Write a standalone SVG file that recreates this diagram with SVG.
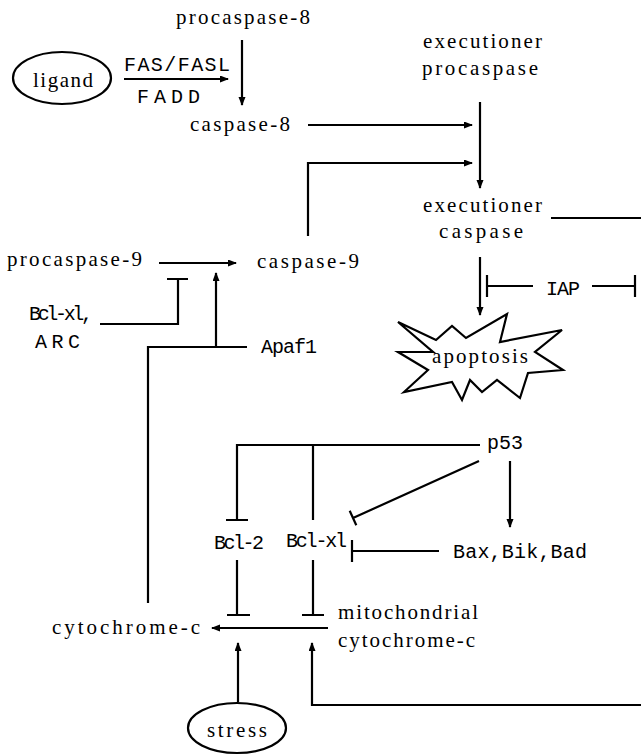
<svg xmlns="http://www.w3.org/2000/svg" width="641" height="755" viewBox="0 0 641 755">
<defs>
<style>
.s{font-family:"Liberation Serif","Times New Roman",serif;font-size:21px;fill:#000}
.m{font-family:"Liberation Mono","Courier New",monospace;font-size:20px;fill:#000}
.c{fill:none;stroke:#000;stroke-width:2.2}
.a{fill:none;stroke:#000;stroke-width:2.2;marker-end:url(#ah)}
.n{fill:#fff;stroke:#000;stroke-width:2.2}
</style>
<marker id="ah" markerUnits="userSpaceOnUse" markerWidth="10" markerHeight="8" refX="8" refY="3.5" orient="auto">
<path d="M0,0 L9,3.5 L0,7 z" fill="#000"/>
</marker>
</defs>
<rect width="641" height="755" fill="#fff"/>
<g id="connectors">
<path class="a" d="M242,40 V105"/>
<path class="a" d="M124,79 H228"/>
<path class="a" d="M308,125 H472"/>
<path class="a" d="M308,236 V163 H472"/>
<path class="a" d="M480,102 V188"/>
<path class="a" d="M480,257 V315"/>
<path class="c" d="M551,218 H641"/>
<path class="c" d="M533,286 H487 M487,275 V297"/>
<path class="c" d="M592,286 H635 M635,275 V297"/>
<path class="a" d="M159,263 H236"/>
<path class="c" d="M100,324 H178 V279 M167,279 H188"/>
<path class="c" d="M247,347 H148 V603"/>
<path class="a" d="M216,347 V273"/>
<path class="c" d="M480,445 H237 V520 M226,520 H248 M313,445 V520"/>
<path class="c" d="M479,461 L353,518 M349.7,510.7 L356.3,525.3"/>
<path class="a" d="M510,461 V527"/>
<path class="c" d="M439,551 H352 M352,540 V562"/>
<path class="c" d="M237,560 V615 M227,615 H250"/>
<path class="c" d="M313,560 V615 M302,615 H324"/>
<path class="a" d="M328,628 H212"/>
<path class="a" d="M238,702 V643"/>
<path class="a" d="M641,705 H312 V643"/>
</g>
<g id="procaspase8"><text class="s" x="176" y="24" textLength="134" lengthAdjust="spacing">procaspase-8</text></g>
<g id="ligand"><ellipse class="n" cx="62" cy="78" rx="49" ry="26"/><text class="s" x="33" y="87" textLength="60" lengthAdjust="spacing">ligand</text></g>
<g id="fasfasl"><text class="m" x="124" y="71" textLength="106" lengthAdjust="spacing">FAS/FASL</text></g>
<g id="fadd"><text class="m" x="137" y="103" textLength="63" lengthAdjust="spacing">FADD</text></g>
<g id="caspase8"><text class="s" x="190" y="131" textLength="100" lengthAdjust="spacing">caspase-8</text></g>
<g id="execprocaspase"><text class="s" x="423" y="48" textLength="119" lengthAdjust="spacing">executioner</text><text class="s" x="422" y="75" textLength="116" lengthAdjust="spacing">procaspase</text></g>
<g id="execcaspase"><text class="s" x="423" y="212" textLength="119" lengthAdjust="spacing">executioner</text><text class="s" x="439" y="238" textLength="84" lengthAdjust="spacing">caspase</text></g>
<g id="caspase9"><text class="s" x="257" y="268" textLength="102" lengthAdjust="spacing">caspase-9</text></g>
<g id="procaspase9"><text class="s" x="7" y="266" textLength="135" lengthAdjust="spacing">procaspase-9</text></g>
<g id="bclxlarc"><text class="m" x="29" y="320" textLength="64" lengthAdjust="spacing">Bcl-xl,</text><text class="m" x="35" y="348" textLength="45" lengthAdjust="spacing">ARC</text></g>
<g id="apaf1"><text class="m" x="261" y="353" textLength="56" lengthAdjust="spacing">Apaf1</text></g>
<g id="iap"><text class="m" x="546" y="295" textLength="34" lengthAdjust="spacing">IAP</text></g>
<g id="apoptosis">
<path class="n" d="M398,322 L436,340 L452,326 L466,338 L507,314 L500,342 L562,330 L535,352 L563,370 L528,373 L520,398 L497,380 L482,392 L470,380 L462,400 L452,382 L404,392 L428,370 L398,352 L433,352 Z"/>
<text class="s" x="432" y="363" textLength="96" lengthAdjust="spacing">apoptosis</text></g>
<g id="p53"><text class="m" x="487" y="449" textLength="36" lengthAdjust="spacing">p53</text></g>
<g id="bcl2"><text class="m" x="214" y="549" textLength="50" lengthAdjust="spacing">Bcl-2</text></g>
<g id="bclxl"><text class="m" x="286" y="547" textLength="61" lengthAdjust="spacing">Bcl-xl</text></g>
<g id="baxbikbad"><text class="m" x="453" y="558" textLength="134" lengthAdjust="spacing">Bax,Bik,Bad</text></g>
<g id="mitocyto"><text class="s" x="338" y="619" textLength="140" lengthAdjust="spacing">mitochondrial</text><text class="s" x="338" y="647" textLength="137" lengthAdjust="spacing">cytochrome-c</text></g>
<g id="cytochrome"><text class="s" x="52" y="634" textLength="148" lengthAdjust="spacing">cytochrome-c</text></g>
<g id="stress"><ellipse class="n" cx="237" cy="728" rx="49" ry="25"/><text class="s" x="207" y="737" textLength="60" lengthAdjust="spacing">stress</text></g>
</svg>
